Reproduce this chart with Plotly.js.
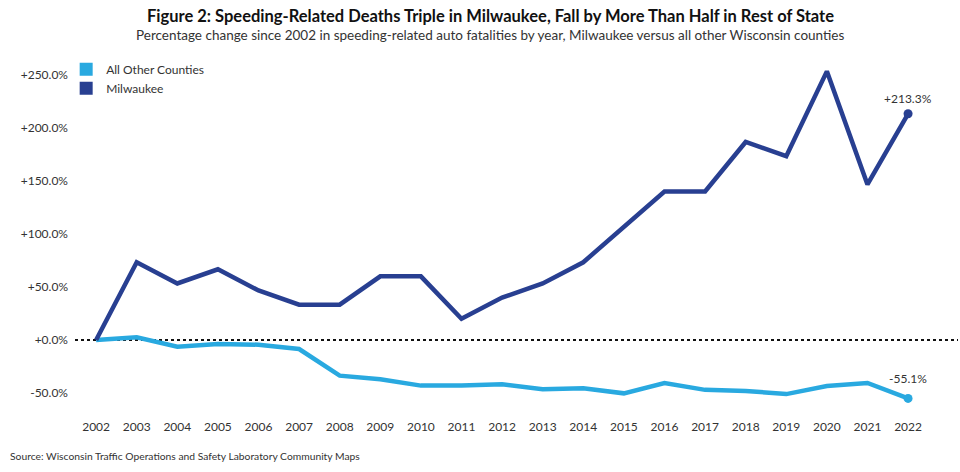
<!DOCTYPE html>
<html>
<head>
<meta charset="utf-8">
<script src="https://cdn.plot.ly/plotly-3.0.1.min.js"></script>
<style>html,body{margin:0;padding:0;background:#fff;}#chart{width:960px;height:472px;}</style>
</head>
<body>
<div id="chart"></div>
<script>
const years = [2002,2003,2004,2005,2006,2007,2008,2009,2010,2011,2012,2013,2014,2015,2016,2017,2018,2019,2020,2021,2022];
const milwaukee = [0,73.3,53.3,66.7,46.7,33.3,33.3,60,60,20,40,53.3,73.3,106.7,140,140,186.7,173.3,253.3,146.7,213.3];
const otherCounties = [0,2.5,-6.3,-3.8,-4.4,-8.5,-33.6,-37,-43,-43,-41.7,-46.5,-45.6,-50.3,-40.5,-47,-48,-51,-43.4,-40.5,-55.1];
const yTicks = [-50,0,50,100,150,200,250];
const yTickLabels = ["-50.0%","+0.0%","+50.0%","+100.0%","+150.0%","+200.0%","+250.0%"];
const seriesNames = ["All Other Counties","Milwaukee"];
const colors = {other:"#29A9E0", mil:"#283F91"};
const endLabels = ["-55.1%","+213.3%"];

const FONT = "Lato, 'Open Sans', sans-serif";
const last = years.length-1;

const traces = [
  {x:years, y:otherCounties, mode:"lines", line:{color:colors.other, width:4.5}, showlegend:false, hoverinfo:"skip"},
  {x:years, y:milwaukee, mode:"lines", line:{color:colors.mil, width:4.5}, showlegend:false, hoverinfo:"skip"},
  {x:[years[last]], y:[otherCounties[last]], mode:"markers", marker:{color:colors.other, size:9}, showlegend:false},
  {x:[years[last]], y:[milwaukee[last]], mode:"markers", marker:{color:colors.mil, size:9}, showlegend:false},
  {x:[null], y:[null], mode:"markers", name:seriesNames[0], marker:{symbol:"square", size:13, color:colors.other}},
  {x:[null], y:[null], mode:"markers", name:seriesNames[1], marker:{symbol:"square", size:13, color:colors.mil}}
];

const layout = {
  width:960, height:472,
  margin:{l:75, r:2, t:60, b:62},
  paper_bgcolor:"#fff", plot_bgcolor:"#fff",
  font:{family:FONT, color:"#333"},
  xaxis:{range:[2001.48, 2023.23], tickvals:years, ticktext:years.map(String), showgrid:false, zeroline:false, showline:false, ticks:"", tickfont:{size:12, color:"#333"}, ticklabelstandoff:8},
  yaxis:{range:[-66,264], tickvals:yTicks, ticktext:yTickLabels, showgrid:false, zeroline:false, showline:false, ticks:"", tickfont:{size:12, color:"#333"}, ticklabelstandoff:6},
  legend:{x:-0.01, y:1.015, xanchor:"left", yanchor:"top", font:{size:12, color:"#333"}, itemwidth:30, tracegroupgap:0, bgcolor:"rgba(0,0,0,0)"},
  shapes:[{type:"line", xref:"paper", x0:0, x1:1, yref:"y", y0:0, y1:0, line:{color:"#111", width:2, dash:"dot"}, layer:"below"}],
  annotations:[
    {xref:"paper", yref:"paper", x:0.47, y:1, yshift:56, xanchor:"center", yanchor:"top", text:"<b>Figure 2: Speeding-Related Deaths Triple in Milwaukee, Fall by More Than Half in Rest of State</b>", showarrow:false, font:{size:16.5, color:"#111", family:FONT}},
    {xref:"paper", yref:"paper", x:0.47, y:1, yshift:35, xanchor:"center", yanchor:"top", text:"Percentage change since 2002 in speeding-related auto fatalities by year, Milwaukee versus all other Wisconsin counties", showarrow:false, font:{size:13.5, color:"#333", family:FONT}},
    {x:years[last], y:milwaukee[last], text:endLabels[1], showarrow:false, yanchor:"bottom", yshift:6, xanchor:"center", font:{size:12, color:"#333"}},
    {x:years[last], y:otherCounties[last], text:endLabels[0], showarrow:false, yanchor:"bottom", yshift:10, xanchor:"center", font:{size:12, color:"#333"}},
    {xref:"paper", yref:"paper", x:0, xshift:-67, y:0, yshift:-54, xanchor:"left", yanchor:"bottom", text:"Source: Wisconsin Traffic Operations and Safety Laboratory Community Maps", showarrow:false, font:{size:10.3, color:"#333", family:FONT}}
  ]
};

Plotly.newPlot("chart", traces, layout, {displayModeBar:false, staticPlot:true});
</script>
</body>
</html>
